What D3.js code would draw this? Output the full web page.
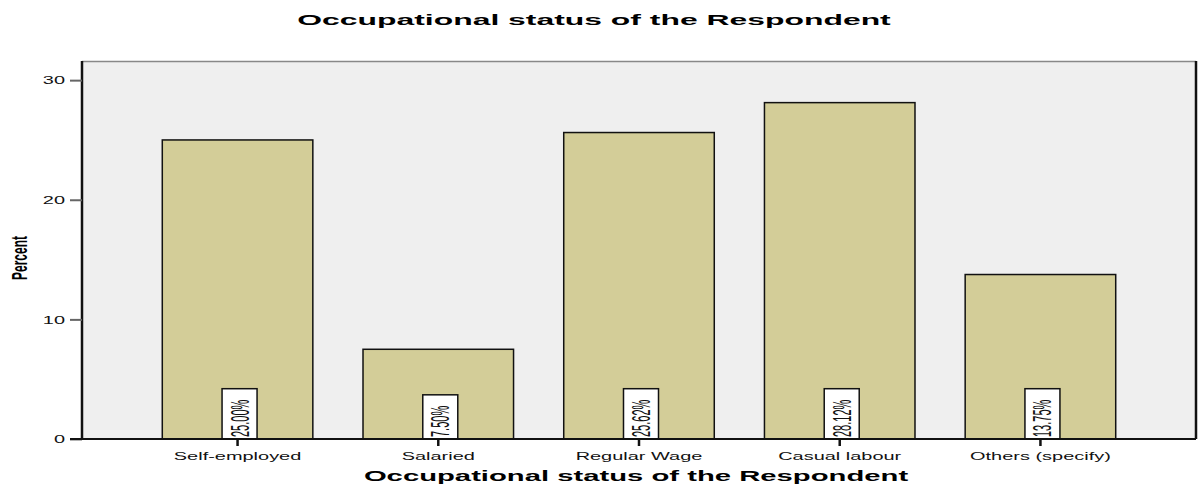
<!DOCTYPE html>
<html>
<head>
<meta charset="utf-8">
<script src="https://cdn.jsdelivr.net/npm/d3@7"></script>
<style>
  body { margin: 0; background: #fff; }
  text { font-family: "Liberation Sans", Arial, sans-serif; }
</style>
</head>
<body>
<div id="chart"></div>
<script>
// data
var categories = ["Self-employed", "Salaried", "Regular Wage", "Casual labour", "Others (specify)"];
var percents = [25.00, 7.50, 25.62, 28.12, 13.75];
var valueLabels = ["25.00%", "7.50%", "25.62%", "28.12%", "13.75%"];
var yTicks = [0, 10, 20, 30];

var W = 1204, H = 485;
var plot = { left: 82, right: 1196, top: 61, bottom: 439 };
var sx = 1.9; // the reference text looks stretched sideways

var data = categories.map(function(c, i) {
    return { cat: c, pct: percents[i], label: valueLabels[i] };
});

var svg = d3.select("#chart").append("svg")
    .attr("width", W).attr("height", H);

var x = d3.scaleBand()
    .domain(categories)
    .range([plot.left, plot.right])
    .paddingInner(0.25)
    .paddingOuter(0.4);

var y = d3.scaleLinear().domain([0, 31.6]).range([plot.bottom, plot.top]);

// plot background
svg.append("rect")
    .attr("x", plot.left).attr("y", plot.top)
    .attr("width", plot.right - plot.left).attr("height", plot.bottom - plot.top)
    .attr("fill", "#efefef");

svg.append("line")
    .attr("x1", plot.left).attr("x2", plot.right)
    .attr("y1", plot.top + 0.5).attr("y2", plot.top + 0.5)
    .attr("stroke", "#888").attr("stroke-width", 1.5);
svg.append("line")
    .attr("x1", plot.right).attr("x2", plot.right)
    .attr("y1", plot.top).attr("y2", plot.bottom)
    .attr("stroke", "#111").attr("stroke-width", 2.5);

// bars
svg.selectAll(".bar").data(data).enter().append("rect")
    .attr("class", "bar")
    .attr("x", function(d) { return x(d.cat); })
    .attr("y", function(d) { return y(d.pct); })
    .attr("width", x.bandwidth())
    .attr("height", function(d) { return y(0) - y(d.pct); })
    .attr("fill", "#d3cd98")
    .attr("stroke", "#111")
    .attr("stroke-width", 1.5);

// value labels in white boxes
var lab = svg.selectAll(".vlab").data(data).enter().append("g")
    .attr("class", "vlab");

lab.append("rect").attr("class", "box")
    .attr("fill", "#fff").attr("stroke", "#111").attr("stroke-width", 1.5);

lab.append("text")
    .attr("transform", function(d) {
        return "translate(" + (x(d.cat) + x.bandwidth() / 2 + 11) + "," + (plot.bottom - 2) + ") scale(2.3,1) rotate(-90)";
    })
    .attr("text-anchor", "start")
    .style("font-size", "11px")
    .attr("fill", "#111")
    .text(function(d) { return d.label; });

lab.each(function(d) {
    var g = d3.select(this);
    var len = g.select("text").node().getComputedTextLength();
    var cx = x(d.cat) + x.bandwidth() / 2 + 2;
    g.select("rect")
        .attr("x", cx - 17.5)
        .attr("width", 35)
        .attr("y", plot.bottom - len - 13)
        .attr("height", len + 13);
});

// y axis
var yAxis = svg.append("g")
    .attr("transform", "translate(" + plot.left + ",0)")
    .call(d3.axisLeft(y).tickValues(yTicks).tickSize(12).tickSizeOuter(0));
yAxis.select(".domain").attr("stroke", "#111").attr("stroke-width", 2.5)
    .attr("d", "M0," + plot.bottom + "V" + plot.top);
yAxis.selectAll(".tick line").attr("stroke", "#666").attr("stroke-width", 2);
yAxis.selectAll(".tick text")
    .attr("x", null).attr("dy", "0.35em")
    .attr("transform", "translate(-17,0) scale(" + sx + ",1)")
    .style("font-size", "10.5px").attr("fill", "#111");

// x axis
var xAxis = svg.append("g")
    .attr("transform", "translate(0," + plot.bottom + ")")
    .call(d3.axisBottom(x).tickSize(7).tickSizeOuter(0));
xAxis.select(".domain").attr("stroke", "#111").attr("stroke-width", 2)
    .attr("d", "M" + (plot.left - 12) + ",0H" + plot.right);
xAxis.selectAll(".tick line").attr("stroke", "#111").attr("stroke-width", 2.5);
xAxis.selectAll(".tick text")
    .attr("y", null).attr("dy", null)
    .attr("transform", "translate(0,21) scale(" + sx + ",1)")
    .style("font-size", "10.5px").attr("fill", "#111");

// titles
svg.append("text")
    .attr("transform", "translate(594,25) scale(2.2,1)")
    .attr("text-anchor", "middle")
    .style("font-size", "14.5px").style("font-weight", "700")
    .text("Occupational status of the Respondent");

svg.append("text")
    .attr("transform", "translate(636,481) scale(2.09,1)")
    .attr("text-anchor", "middle")
    .style("font-size", "14px").style("font-weight", "700")
    .text("Occupational status of the Respondent");

svg.append("text")
    .attr("transform", "translate(27,258) scale(1.8,1) rotate(-90)")
    .attr("text-anchor", "middle")
    .style("font-size", "12px").style("font-weight", "700")
    .text("Percent");
</script>
</body>
</html>
